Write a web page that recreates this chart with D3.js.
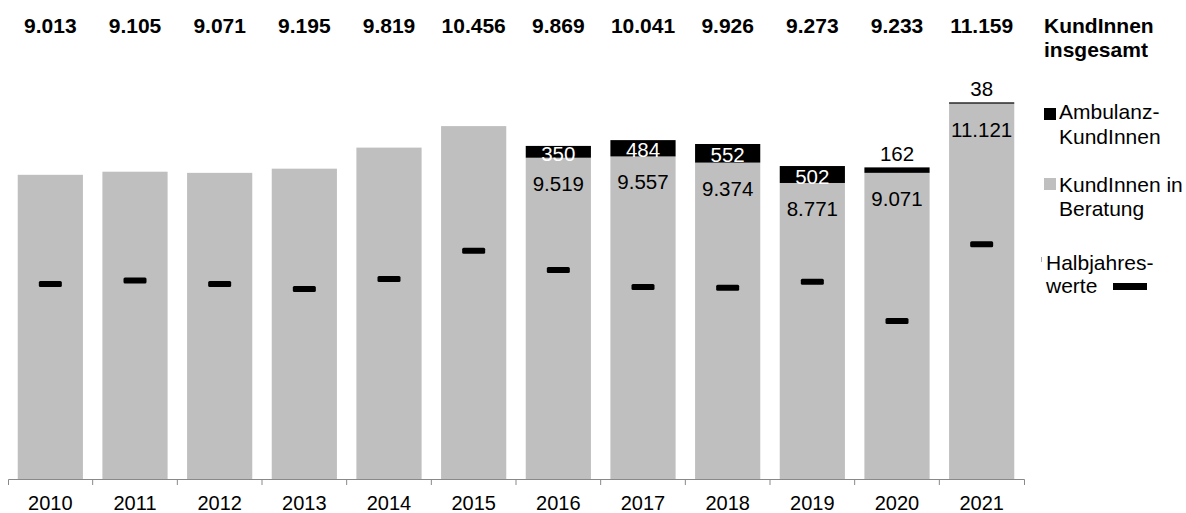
<!DOCTYPE html>
<html>
<head>
<meta charset="utf-8">
<script src="https://cdn.jsdelivr.net/npm/d3@7"></script>
<style>
  body { margin: 0; background: #fff; }
  svg { display: block; font-family: "Liberation Sans", Arial, sans-serif; }
</style>
</head>
<body>
<div id="chart"></div>
<script>
/* KundInnen pro Jahr: Beratung + Ambulanz, mit Halbjahreswerten */

const years = ["2010", "2011", "2012", "2013", "2014", "2015", "2016", "2017", "2018", "2019", "2020", "2021"];
const beratung = [9013, 9105, 9071, 9195, 9819, 10456, 9519, 9557, 9374, 8771, 9071, 11121];
const ambulanz = [0, 0, 0, 0, 0, 0, 350, 484, 552, 502, 162, 38];
const halbjahr = [5781, 5885, 5781, 5633, 5929, 6760, 6196, 5692, 5663, 5841, 4684, 6958];

// build the table for d3.stack
let data = years.map((y, i) => ({
    year: y,
    beratung: beratung[i],
    ambulanz: ambulanz[i],
    halbjahr: halbjahr[i],
    total: beratung[i] + ambulanz[i]
}));

const width = 1186,
    height = 513,
    margin = ({ top: 74, right: 162, bottom: 34, left: 8 });

const de = d3.formatLocale({ decimal: ",", thousands: ".", grouping: [3], currency: ["", " €"] });
const fmt = de.format(",d");

let svg = d3.select("#chart")
    .append("svg")
    .attr("width", width)
    .attr("height", height)
    .attr("viewBox", [0, 0, width, height]);

// band scale with padding for the bars, one without for the tick marks
let x = d3.scaleBand()
    .domain(years)
    .range([margin.left, width - margin.right])
    .paddingInner(0.23)
    .paddingOuter(0.115);

let xTicks = d3.scaleBand()
    .domain(years)
    .range([margin.left, width - margin.right]);

let y = d3.scaleLinear()
    .domain([0, 12000])
    .range([height - margin.bottom, margin.top]);

let stack = d3.stack().keys(["beratung", "ambulanz"])(data);
const colors = { beratung: "#bfbfbf", ambulanz: "#000000" };

// stacked bars
svg.append("g")
    .selectAll("g")
    .data(stack)
    .join("g")
    .attr("fill", d => colors[d.key])
    .selectAll("rect")
    .data(d => d)
    .join("rect")
    .attr("x", d => x(d.data.year))
    .attr("width", x.bandwidth())
    .attr("y", d => y(d[1]))
    .attr("height", d => y(d[0]) - y(d[1]));

// x axis
let xAxis = svg.append("g")
    .attr("transform", `translate(0,${height - margin.bottom})`)
    .call(d3.axisBottom(x).tickSize(0).tickSizeOuter(6).tickPadding(17));

xAxis.select(".domain").attr("stroke", "#898989");
xAxis.selectAll("text")
    .attr("font-size", 20)
    .attr("font-family", "Liberation Sans, Arial, sans-serif")
    .attr("fill", "#000");

// tick marks between the categories
xAxis.selectAll(".sep")
    .data(years.slice(1))
    .join("line")
    .attr("class", "sep")
    .attr("x1", d => xTicks(d))
    .attr("x2", d => xTicks(d))
    .attr("y1", 0)
    .attr("y2", 6)
    .attr("stroke", "#898989");

// half year markers
svg.append("g")
    .selectAll("rect")
    .data(data)
    .join("rect")
    .attr("x", d => x(d.year) + x.bandwidth() / 2 - 11.5)
    .attr("y", d => y(d.halbjahr) - 3)
    .attr("width", 23)
    .attr("height", 6)
    .attr("rx", 1.5)
    .attr("fill", "#000");

// totals on top
svg.append("g")
    .selectAll("text")
    .data(data)
    .join("text")
    .text(d => fmt(d.total))
    .attr("x", d => x(d.year) + x.bandwidth() / 2)
    .attr("y", 33)
    .attr("text-anchor", "middle")
    .attr("font-size", 21)
    .attr("font-weight", "bold");

let withAmb = data.filter(d => d.ambulanz > 0);

// Beratung labels inside the grey part
svg.append("g")
    .selectAll("text")
    .data(withAmb)
    .join("text")
    .text(d => fmt(d.beratung))
    .attr("x", d => x(d.year) + x.bandwidth() / 2)
    .attr("y", d => y(d.beratung) + 33)
    .attr("text-anchor", "middle")
    .attr("font-size", 20.5)
    .attr("fill", "#000");

// Ambulanz labels: inside (white) when big enough, else above
svg.append("g")
    .selectAll("text")
    .data(withAmb)
    .join("text")
    .text(d => fmt(d.ambulanz))
    .attr("x", d => x(d.year) + x.bandwidth() / 2)
    .attr("y", d => d.ambulanz >= 300
        ? (y(d.beratung) + y(d.total)) / 2 + 9
        : y(d.total) - 6)
    .attr("text-anchor", "middle")
    .attr("font-size", 20.5)
    .attr("fill", d => d.ambulanz >= 300 ? "#fff" : "#000");

// legend
let legend = svg.append("g").attr("font-size", 21);

legend.append("text")
    .attr("x", 1044).attr("y", 33)
    .attr("font-weight", "bold")
    .text("KundInnen");
legend.append("text")
    .attr("x", 1044).attr("y", 57)
    .attr("font-weight", "bold")
    .text("insgesamt");

legend.append("rect")
    .attr("x", 1044).attr("y", 108)
    .attr("width", 12).attr("height", 12)
    .attr("fill", colors.ambulanz);
legend.append("text").attr("x", 1059).attr("y", 119).text("Ambulanz-");
legend.append("text").attr("x", 1059).attr("y", 144).text("KundInnen");

legend.append("rect")
    .attr("x", 1044).attr("y", 178)
    .attr("width", 12).attr("height", 12)
    .attr("fill", colors.beratung);
legend.append("text").attr("x", 1059).attr("y", 192).text("KundInnen in");
legend.append("text").attr("x", 1059).attr("y", 216).text("Beratung");

legend.append("line")
    .attr("x1", 1041.5).attr("x2", 1041.5)
    .attr("y1", 257).attr("y2", 262)
    .attr("stroke", "#aaa");
legend.append("text").attr("x", 1046).attr("y", 270).text("Halbjahres-");
legend.append("text").attr("x", 1046).attr("y", 293).text("werte");
legend.append("rect")
    .attr("x", 1113).attr("y", 283)
    .attr("width", 34).attr("height", 7)
    .attr("fill", "#000");
</script>
</body>
</html>
